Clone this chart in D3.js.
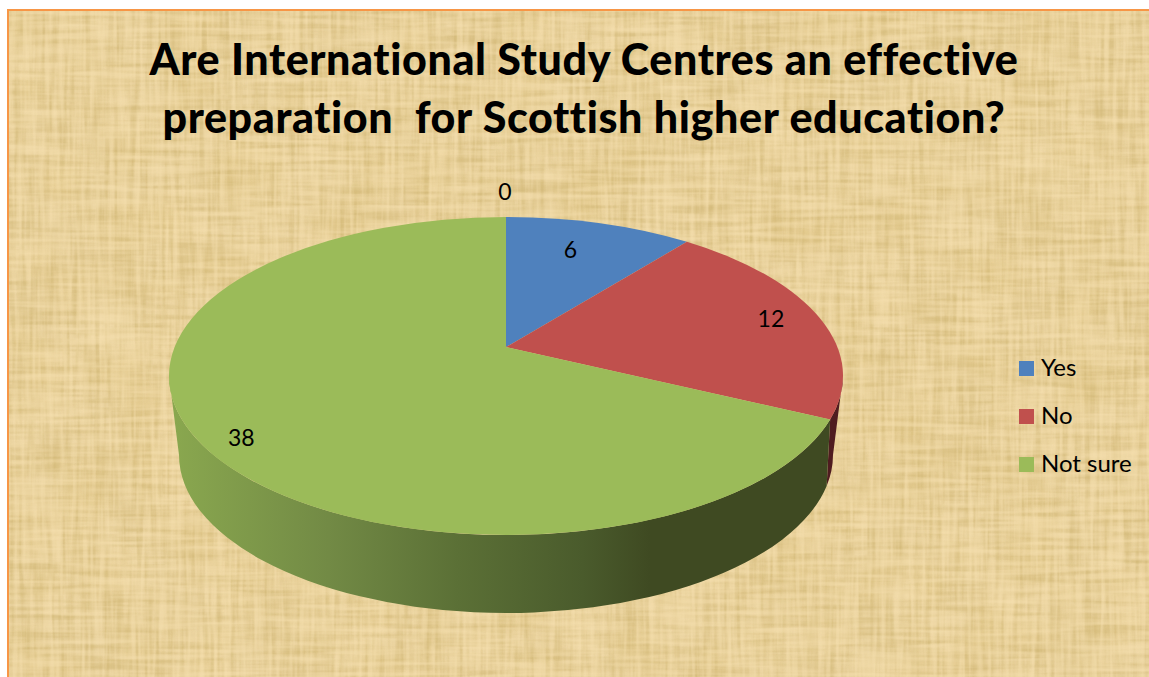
<!DOCTYPE html>
<html>
<head>
<meta charset="utf-8">
<title>International Study Centres survey</title>
<script src="https://cdn.jsdelivr.net/npm/d3@7/dist/d3.min.js"></script>
<style>
  html, body { margin: 0; padding: 0; background: #fff; overflow: hidden; }
  svg { display: block; }
  text { font-family: Lato, "Open Sans", sans-serif; fill: #000; font-variant-ligatures: none; }
</style>
</head>
<body>
<svg id="chart" width="1149" height="677"></svg>
<script>
// Survey responses
const categories = ["Yes", "No", "Not sure", ""];
const values = [6, 12, 38, 0];
const sliceColors = ["#4f81bd", "#c0504d", "#9bbb59", "#8064a2"];
const titleLines = [
  "Are International Study Centres an effective",
  "preparation  for Scottish higher education?"
];
// Hand placement of each value label relative to its slice anchor
const labelNudge = [[-4, -7], [45, -5], [-54, 29], [-1, -25]];

const width = 1149, height = 677;
const svg = d3.select("#chart");
const defs = svg.append("defs");

// Perspective outlines of the pie's top face and its lower rim
const topFace = { cx: 506, cy: 376, rx: 337, ry: 159, k: 0.182 };
const lowerRim = { cx: 506, cy: 455, rx: 327, ry: 158, k: 0.26 };

// Maps a polar position on the flat disc onto a tilted outline
function project(angle, e, r = 1) {
  const x = r * Math.sin(angle), y = -r * Math.cos(angle);
  const d = 1 - e.k * y;
  return [
    e.cx + e.rx * x * Math.sqrt(1 - e.k * e.k) / d,
    e.cy + e.ry * (y - e.k) / d
  ];
}
// Elliptical arc command between two points of an outline
function arcTo(e, from, to, sweep) {
  const ang = p => Math.atan2((p[1] - e.cy) / e.ry, (p[0] - e.cx) / e.rx);
  let delta = ang(to) - ang(from);
  if (sweep) { while (delta < 0) delta += 2 * Math.PI; }
  else { while (delta > 0) delta -= 2 * Math.PI; }
  const large = Math.abs(delta) > Math.PI ? 1 : 0;
  return `A${e.rx},${e.ry} 0 ${large} ${sweep} ${to[0]},${to[1]}`;
}

// Papyrus backdrop: woven streaks in two directions plus soft blotches
function weave(id, freq, seed, tint, gain, bias, blur) {
  const f = defs.append("filter").attr("id", id)
    .attr("x", 0).attr("y", 0).attr("width", "100%").attr("height", "100%")
    .attr("color-interpolation-filters", "sRGB");
  f.append("feTurbulence").attr("type", "fractalNoise")
    .attr("baseFrequency", freq).attr("numOctaves", 2).attr("seed", seed);
  const c = d3.rgb(tint);
  f.append("feColorMatrix").attr("type", "matrix").attr("values",
    `0 0 0 0 ${c.r / 255} 0 0 0 0 ${c.g / 255} 0 0 0 0 ${c.b / 255} ${gain} 0 0 0 ${bias}`);
  f.append("feGaussianBlur").attr("stdDeviation", blur);
}
weave("blotchDark", "0.018 0.02", 4, "#dcc07a", 3, -1.2, 4);
weave("blotchLight", "0.02 0.016", 9, "#f6dfae", 3, -1.2, 4);
weave("vertDark", "0.2 0.012", 3, "#d0b674", 2.8, -1.1, 0.7);
weave("vertLight", "0.22 0.014", 12, "#f6e0b0", 2.8, -1.1, 0.7);
weave("horizDark", "0.012 0.2", 7, "#d0b674", 2.8, -1.1, 0.7);
weave("horizLight", "0.014 0.18", 15, "#f6e0b0", 2.8, -1.1, 0.7);

const paper = svg.append("g");
paper.append("rect").attr("x", 7).attr("y", 9).attr("width", width - 7).attr("height", height - 9).attr("fill", "#f79646");
paper.append("rect").attr("x", 9).attr("y", 11).attr("width", width - 9).attr("height", height - 11).attr("fill", "#e9d29e");
[["blotchDark", 0.4], ["blotchLight", 0.4], ["vertDark", 0.5], ["horizDark", 0.5], ["vertLight", 0.5], ["horizLight", 0.5]].forEach(([id, o]) => {
  paper.append("rect").attr("x", 9).attr("y", 11).attr("width", width - 9).attr("height", height - 11)
    .attr("fill", "#fff").attr("filter", `url(#${id})`).attr("opacity", o);
});

const color = d3.scaleOrdinal().domain(categories).range(sliceColors);
const slices = d3.pie().sort(null).value(d => d.value)(
  categories.map((name, i) => ({ name, value: values[i], nudge: labelNudge[i] }))
);

// Shading that runs across the green wall, light at the left and dark at the right
const wallShade = defs.append("linearGradient").attr("id", "wallShade")
  .attr("gradientUnits", "userSpaceOnUse").attr("x1", 170).attr("x2", 650).attr("y1", 0).attr("y2", 0);
[[0, "#8aa84f"], [0.33, "#728a45"], [0.6, "#5b7036"], [0.86, "#4a5b2c"], [1, "#3f4a22"]].forEach(([o, c]) =>
  wallShade.append("stop").attr("offset", o).attr("stop-color", c));

const pie = svg.append("g");
const seam = slices[1].endAngle;
const seamTop = project(seam, topFace), seamLow = project(seam, lowerRim);
const topRight = [topFace.cx + topFace.rx, topFace.cy], topLeft = [topFace.cx - topFace.rx, topFace.cy];
const lowRight = [lowerRim.cx + lowerRim.rx, lowerRim.cy], lowLeft = [lowerRim.cx - lowerRim.rx, lowerRim.cy];

// Side walls: the dark red sliver and the long green front
pie.append("path")
  .attr("d", `M${topRight} ${arcTo(topFace, topRight, seamTop, 1)} L${seamLow} ${arcTo(lowerRim, seamLow, lowRight, 0)} Z`)
  .attr("fill", "#4f1c20");
pie.append("path")
  .attr("d", `M${seamTop} ${arcTo(topFace, seamTop, topLeft, 1)} L${lowLeft} ${arcTo(lowerRim, lowLeft, seamLow, 0)} Z`)
  .attr("fill", "url(#wallShade)");

// Top face slices meet at the projected centre of the disc
const hub = project(0, topFace, 0);
pie.selectAll("path.slice")
  .data(slices.filter(d => d.value > 0))
  .join("path")
  .attr("class", "slice")
  .attr("fill", d => color(d.data.name))
  .attr("d", d => {
    const a = project(d.startAngle, topFace), b = project(d.endAngle, topFace);
    return `M${hub} L${a} ${arcTo(topFace, a, b, 1)} Z`;
  });

// Value labels
svg.append("g").selectAll("text")
  .data(slices)
  .join("text")
  .attr("font-size", 23)
  .attr("text-anchor", "middle")
  .attr("dy", "0.36em")
  .attr("transform", d => {
    const mid = (d.startAngle + d.endAngle) / 2;
    const r = d.value > 0 ? 0.7 : 1;
    const at = d.value > 0 ? project(mid, topFace, r) : project(0, topFace, r);
    return `translate(${at[0] + d.data.nudge[0]},${at[1] + d.data.nudge[1]})`;
  })
  .text(d => d.data.value);

// Title
svg.append("g").selectAll("text")
  .data(titleLines)
  .join("text")
  .attr("x", 584)
  .attr("y", (d, i) => 75 + i * 58)
  .attr("text-anchor", "middle")
  .attr("font-size", 43)
  .attr("font-weight", 900)
  .attr("letter-spacing", 0.6)
  .style("white-space", "pre")
  .text(d => d);

// Legend
const legendY = d3.scalePoint().domain(categories.filter(Boolean)).range([368.5, 464.5]);
const legend = svg.append("g").selectAll("g")
  .data(legendY.domain())
  .join("g")
  .attr("transform", d => `translate(1019,${legendY(d)})`);
legend.append("rect").attr("y", -7.5).attr("width", 15).attr("height", 15).attr("fill", d => color(d));
legend.append("text").attr("x", 22).attr("y", 7).attr("font-size", 24).text(d => d);
</script>
</body>
</html>
